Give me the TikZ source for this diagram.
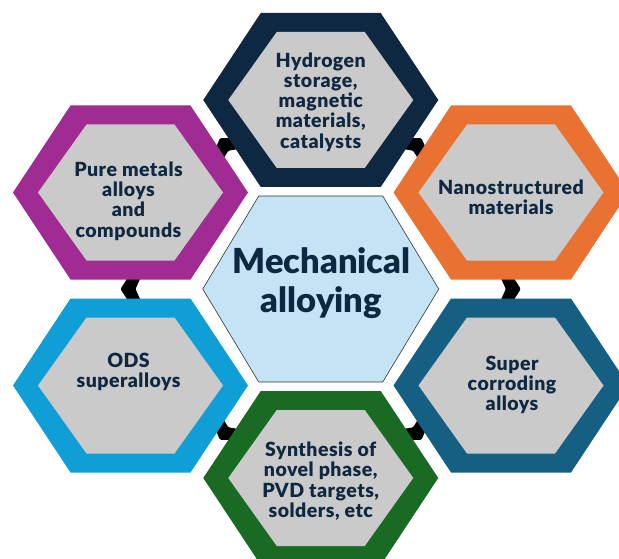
\documentclass[tikz,border=0pt]{standalone}
\usepackage{fontspec}
\setmainfont{Lato}[BoldFont={Lato Black}]
\definecolor{navy}{HTML}{0E2841}
\definecolor{ringorange}{HTML}{E97132}
\definecolor{ringblue}{HTML}{156082}
\definecolor{ringgreen}{HTML}{196B24}
\definecolor{ringcyan}{HTML}{0F9ED5}
\definecolor{ringpurple}{HTML}{A02B93}
\definecolor{hexgray}{HTML}{CACACA}
\definecolor{hubfill}{HTML}{C4E4F5}
\tikzset{
  % outer hexagon: coloured ring with a grey face
  hexring/.pic={
    \fill[pic actions] (-117.5,0) -- (-60,-87) -- (60,-87) -- (117.5,0) -- (60,87) -- (-60,87) -- cycle;
    \fill[hexgray] (-92.5,0) -- (-44,-68) -- (44,-68) -- (92.5,0) -- (44,68) -- (-44,68) -- cycle;
  },
  % small dark chevron linking two neighbouring hexagons
  linkmark/.pic={
    \fill[black, rounded corners=1.2pt] (-10,-11) -- (3,-11) -- (10,0) -- (3,11) -- (-10,11) -- (-5,0) -- cycle;
  },
  lbl/.style={font=\bfseries\fontsize{19.5}{20.3}\selectfont\addfontfeature{LetterSpace=2.5}, text=navy, align=center, inner sep=0pt},
  hublbl/.style={font=\bfseries\fontsize{34.5}{39}\selectfont, text=navy, align=center, inner sep=0pt},
}
\begin{document}
\begin{tikzpicture}[x=1pt, y=-1pt]
\useasboundingbox (0,0) rectangle (619,559);
\clip (0,0) rectangle (619,559);

% connectors, drawn first so the hexagons cover all but the part in the gaps
\pic[rotate=123.8] at (225.6,146.5) {linkmark};
\pic[rotate=56.2]  at (415.9,146.5) {linkmark};
\pic[rotate=0]     at (510.8,289)   {linkmark};
\pic[rotate=-56.2] at (415.9,431.5) {linkmark};
\pic[rotate=-123.8] at (225.6,431.5) {linkmark};
\pic[rotate=180]   at (130.5,289)   {linkmark};

% central hexagon
\filldraw[fill=hubfill, draw=black!80, line width=0.6pt]
  (202.75,289) -- (258.75,196) -- (382.75,196) -- (438.75,289) -- (382.75,382) -- (258.75,382) -- cycle;

% surrounding hexagons
\pic[fill=navy]       at (320.75,100)  {hexring};
\pic[fill=ringorange] at (511,192.5)   {hexring};
\pic[fill=ringblue]   at (511,385.5)   {hexring};
\pic[fill=ringgreen]  at (320.75,478)  {hexring};
\pic[fill=ringcyan]   at (130.5,385.5) {hexring};
\pic[fill=ringpurple] at (130.5,192.5) {hexring};

% labels
\node[hublbl] (hub) at (321.5,283) {Mechanical\\alloying};
\node[lbl] (top)    at (320.75,102) {Hydrogen\\storage,\\magnetic\\materials,\\catalysts};
\node[lbl] (nano)   at (511,197)    {Nanostructured\\materials};
\node[lbl] (super)  at (512,385)    {Super\\corroding\\alloys};
\node[lbl] (synth)  at (320.75,481) {Synthesis of\\novel phase,\\PVD targets,\\solders, etc};
\node[lbl] (ods)    at (128.5,372)  {ODS\\superalloys};
\node[lbl] (pure)   at (128.5,201)  {Pure metals\\alloys\\and\\compounds};
\end{tikzpicture}
\end{document}
